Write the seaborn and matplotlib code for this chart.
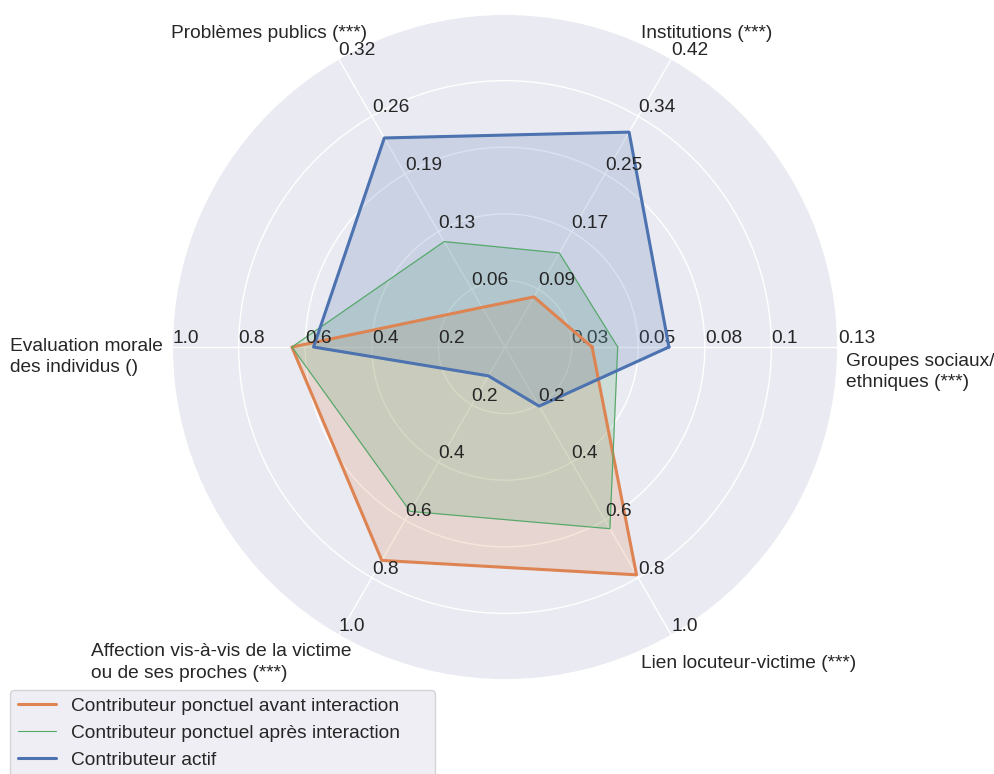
import numpy as np
import matplotlib
matplotlib.use("Agg")
import matplotlib.pyplot as plt
import seaborn as sns

# ---------------- data ----------------
variables = [
    "Groupes sociaux/\nethniques (***)",
    "Institutions (***)",
    "Problèmes publics (***)",
    "Evaluation morale\ndes individus ()",
    "Affection vis-à-vis de la victime\nou de ses proches (***)",
    "Lien locuteur-victime (***)",
]
axis_max = [0.13, 0.42, 0.32, 1.0, 1.0, 1.0]
tick_labels = [
    ["0.03", "0.05", "0.08", "0.1", "0.13"],
    ["0.09", "0.17", "0.25", "0.34", "0.42"],
    ["0.06", "0.13", "0.19", "0.26", "0.32"],
    ["0.2", "0.4", "0.6", "0.8", "1.0"],
    ["0.2", "0.4", "0.6", "0.8", "1.0"],
    ["0.2", "0.4", "0.6", "0.8", "1.0"],
]
series_names = [
    "Contributeur ponctuel avant interaction",
    "Contributeur ponctuel après interaction",
    "Contributeur actif",
]
avant = [0.034, 0.073, 0.044, 0.64, 0.74, 0.79]
apres = [0.044, 0.137, 0.117, 0.64, 0.57, 0.63]
actif = [0.064, 0.313, 0.232, 0.575, 0.10, 0.205]
series_values = [avant, apres, actif]

# ---------------- style ----------------
sns.set_theme(style="darkgrid")
plt.rcParams["font.family"] = ["Liberation Sans", "DejaVu Sans"]
FS = 13.75
colors = ["#DD8452", "#55A868", "#4C72B0"]
widths = [2.2, 0.8, 2.2]

fig = plt.figure(figsize=(9.95, 7.74), dpi=100)
rect = [0.1729, 0.1214, 0.6693, 0.8605]
angles = np.arange(0, 360, 360 / len(variables))
theta = np.deg2rad(angles)

axes = [fig.add_axes(rect, polar=True, label=f"axes{i}") for i in range(len(variables))]
ax0 = axes[0]
ax0.set_thetagrids(angles, labels=[""] * len(variables))

for i, ax in enumerate(axes):
    grid = np.linspace(0, axis_max[i], 6)[1:]
    ax.set_rgrids(grid, labels=tick_labels[i], angle=angles[i], fontsize=FS, color=".15")
    ax.set_ylim(0, axis_max[i])
    if i > 0:
        ax.patch.set_visible(False)
        ax.grid(False)
        ax.xaxis.set_visible(False)
        ax.spines["polar"].set_visible(False)

# plot data on the first axes, rescaled to its range
def scale(vals):
    return [v / axis_max[k] * axis_max[0] for k, v in enumerate(vals)]

handles = []
for name, vals, c, lw in zip(series_names, series_values, colors, widths):
    sv = scale(vals)
    th = np.concatenate([theta, theta[:1]])
    rr = np.concatenate([sv, sv[:1]])
    ln, = ax0.plot(th, rr, color=c, lw=lw, label=name)
    ax0.fill(th, rr, color=c, alpha=0.2)
    handles.append(ln)

# axis labels
label_specs = [
    # (dx, dy) offset pixels, ha, va
    ((8, -6), "left", "top"),
    ((-31, 21), "left", "baseline"),
    ((29, 21), "right", "baseline"),
    ((-9, 9), "right", "top"),
    ((13, -8), "right", "top"),
    ((-31, -20), "left", "top"),
]
for t, var, (off, ha, va) in zip(theta, variables, label_specs):
    ax0.annotate(var, xy=(t, axis_max[0]), xycoords="data", xytext=off,
                 textcoords="offset pixels", ha=ha, va=va, multialignment="left",
                 linespacing=1.32, fontsize=FS, color=".15", annotation_clip=False)

top = 1 - 690 / 774
fig.legend(handles, series_names, loc="upper left", mode="expand",
           bbox_to_anchor=(10 / 995, 0, 425 / 995, top), bbox_transform=fig.transFigure,
           borderaxespad=0, fontsize=FS)

fig.savefig("out.png", dpi=100)
